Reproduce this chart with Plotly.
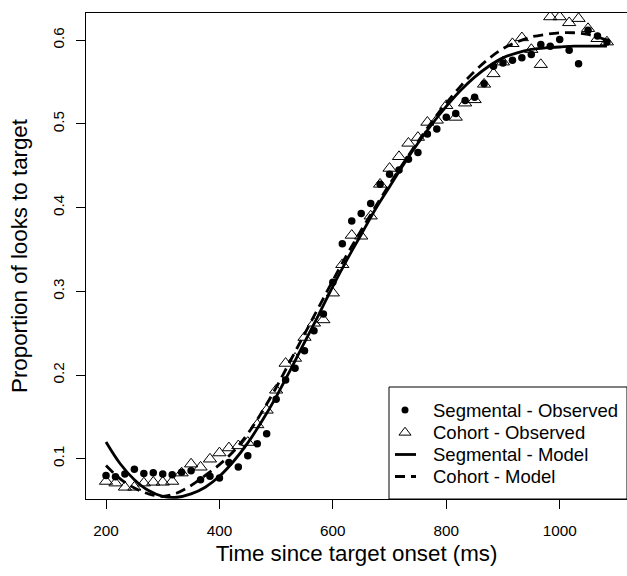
import plotly.graph_objects as go

# Observation times (ms)
times = [200, 216.7, 233.3, 250, 266.7, 283.3, 300, 316.7, 333.3, 350,
         366.7, 383.3, 400, 416.7, 433.3, 450, 466.7, 483.3, 500, 516.7,
         533.3, 550, 566.7, 583.3, 600, 616.7, 633.3, 650, 666.7, 683.3,
         700, 716.7, 733.3, 750, 766.7, 783.3, 800, 816.7, 833.3, 850,
         866.7, 883.3, 900, 916.7, 933.3, 950, 966.7, 983.3, 1000, 1016.7,
         1033.3, 1050, 1066.7, 1083.3]

segmental_obs = [0.080, 0.0785, 0.0817, 0.0873, 0.0825, 0.0833, 0.0817, 0.081, 0.084, 0.0857,
                 0.075, 0.079, 0.077, 0.0956, 0.090, 0.1036, 0.118, 0.130, 0.171, 0.194,
                 0.208, 0.229, 0.253, 0.273, 0.311, 0.357, 0.384, 0.393, 0.405, 0.428,
                 0.440, 0.445, 0.458, 0.466, 0.488, 0.494, 0.508, 0.5125, 0.528, 0.532,
                 0.548, 0.569, 0.573, 0.576, 0.579, 0.583, 0.595, 0.593, 0.601, 0.588,
                 0.572, 0.612, 0.605, 0.598]

cohort_obs = [0.073, 0.071, 0.066, 0.066, 0.071, 0.072, 0.072, 0.073, 0.083, 0.0937,
              0.090, 0.0996, 0.107, 0.113, 0.1155, 0.1195, 0.1406, 0.158, 0.182, 0.214,
              0.220, 0.245, 0.262, 0.266, 0.298, 0.332, 0.367, 0.366, 0.390, 0.428,
              0.447, 0.461, 0.477, 0.484, 0.502, 0.5045, 0.522, 0.508, 0.525, 0.529,
              0.5475, 0.560, 0.574, 0.596, 0.603, 0.589, 0.571, 0.628, 0.628, 0.621,
              0.626, 0.614, 0.602, 0.598]

# Model curves read at coarser times
model_times = [200, 225, 250, 275, 300, 325, 350, 375, 400, 425, 450, 475, 500,
               525, 550, 575, 600, 625, 650, 675, 700, 725, 750, 775, 800, 825,
               850, 875, 900, 925, 950, 975, 1000, 1025, 1050, 1075, 1083.3]

segmental_model = [0.120, 0.094, 0.075, 0.062, 0.055, 0.054, 0.058, 0.066, 0.079, 0.097,
                   0.119, 0.145, 0.174, 0.206, 0.239, 0.272, 0.306, 0.338, 0.368, 0.398,
                   0.425, 0.452, 0.477, 0.500, 0.521, 0.540, 0.556, 0.569, 0.579, 0.585,
                   0.589, 0.591, 0.592, 0.593, 0.593, 0.593, 0.593]

cohort_model = [0.092, 0.076, 0.065, 0.058, 0.055, 0.059, 0.068, 0.080, 0.093, 0.109,
                0.130, 0.156, 0.185, 0.217, 0.249, 0.281, 0.313, 0.344, 0.373, 0.401,
                0.428, 0.454, 0.479, 0.503, 0.525, 0.545, 0.563, 0.578, 0.590, 0.598,
                0.604, 0.607, 0.609, 0.609, 0.607, 0.602, 0.600]

x_ticks = [200, 400, 600, 800, 1000]
y_ticks = [0.1, 0.2, 0.3, 0.4, 0.5, 0.6]
y_tick_labels = ["0.1", "0.2", "0.3", "0.4", "0.5", "0.6"]

legend_labels = ["Segmental - Observed", "Cohort - Observed",
                 "Segmental - Model", "Cohort - Model"]

# ---- geometry (pixels) ----
W, H = 627, 576
ML, MR, MT, MB = 86, 0, 13, 77
PW, PH = W - ML - MR, H - MT - MB


def px(xp):
    return (xp - ML) / PW


def py(yp):
    return (H - MB - yp) / PH


DASH = "10px,6px"
LW = 2.8

fig = go.Figure()
fig.add_trace(go.Scatter(x=times, y=segmental_obs, mode="markers", name=legend_labels[0],
                         marker=dict(symbol="circle", size=7.5, color="black"),
                         showlegend=False))
fig.add_trace(go.Scatter(x=times, y=cohort_obs, mode="markers", name=legend_labels[1],
                         marker=dict(symbol="triangle-up-open", size=11.5, color="black",
                                     line=dict(width=1, color="black")),
                         showlegend=False))
fig.add_trace(go.Scatter(x=model_times, y=segmental_model, mode="lines", name=legend_labels[2],
                         line=dict(color="black", width=LW, shape="spline"),
                         showlegend=False))
fig.add_trace(go.Scatter(x=model_times, y=cohort_model, mode="lines", name=legend_labels[3],
                         line=dict(color="black", width=LW, dash=DASH, shape="spline"),
                         showlegend=False))

# ---- custom legend (R style, bottom-right) ----
row_y = [410, 432.5, 454.5, 476.5]
sym_x = 405
text_x = 431
shapes = [dict(type="rect", xref="paper", yref="paper",
               x0=px(389), x1=1, y0=0, y1=py(387),
               line=dict(color="black", width=1), fillcolor="white", layer="below")]
shapes.append(dict(type="line", xref="paper", yref="paper",
                   x0=px(395), x1=px(416), y0=py(row_y[2]), y1=py(row_y[2]),
                   line=dict(color="black", width=LW)))
shapes.append(dict(type="line", xref="paper", yref="paper",
                   x0=px(395), x1=px(416), y0=py(row_y[3]), y1=py(row_y[3]),
                   line=dict(color="black", width=LW, dash=DASH)))

fig.add_trace(go.Scatter(x=[px(sym_x)], y=[py(row_y[0])], xaxis="x2", yaxis="y2",
                         mode="markers", marker=dict(symbol="circle", size=7, color="black"),
                         showlegend=False, hoverinfo="skip"))
fig.add_trace(go.Scatter(x=[px(sym_x)], y=[py(row_y[1])], xaxis="x2", yaxis="y2",
                         mode="markers",
                         marker=dict(symbol="triangle-up-open", size=10.5, color="black",
                                     line=dict(width=1, color="black")),
                         showlegend=False, hoverinfo="skip"))

annotations = [dict(xref="paper", yref="paper", x=px(text_x), y=py(ry), text=lab,
                    showarrow=False, xanchor="left", yanchor="middle",
                    font=dict(size=18.5, color="black"))
               for lab, ry in zip(legend_labels, row_y)]

fig.update_layout(
    width=W, height=H, autosize=False,
    margin=dict(l=ML, r=MR, t=MT, b=MB),
    plot_bgcolor="white", paper_bgcolor="white",
    font=dict(family="Liberation Sans, Arial, sans-serif", color="black"),
    showlegend=False,
    shapes=shapes, annotations=annotations,
    xaxis2=dict(overlaying="x", range=[0, 1], visible=False, fixedrange=True),
    yaxis2=dict(overlaying="y", range=[0, 1], visible=False, fixedrange=True),
)
fig.update_layout(xaxis=dict(range=[164.7, 1118.7], tickvals=x_ticks, ticks="outside", ticklen=9,
                             tickwidth=1, tickcolor="black", showline=True, linecolor="black",
                             linewidth=1, mirror=True, showgrid=False, zeroline=False,
                             tickfont=dict(size=15.3), ticklabelstandoff=9,
                             title=dict(text="Time since target onset (ms)",
                                        font=dict(size=22.3), standoff=7)),
                  yaxis=dict(range=[0.0519, 0.6326], tickvals=y_ticks, ticktext=y_tick_labels,
                             tickangle=-90, ticks="outside", ticklen=9, tickwidth=1,
                             tickcolor="black", showline=True, linecolor="black", linewidth=1,
                             mirror=True, showgrid=False, zeroline=False,
                             tickfont=dict(size=15.3), ticklabelstandoff=6,
                             title=dict(text="Proportion of looks to target",
                                        font=dict(size=22.3), standoff=16)))

fig.write_html("out.html", config={"displayModeBar": False},
               post_script="document.body.style.margin='0px';document.body.style.overflow='hidden';")
